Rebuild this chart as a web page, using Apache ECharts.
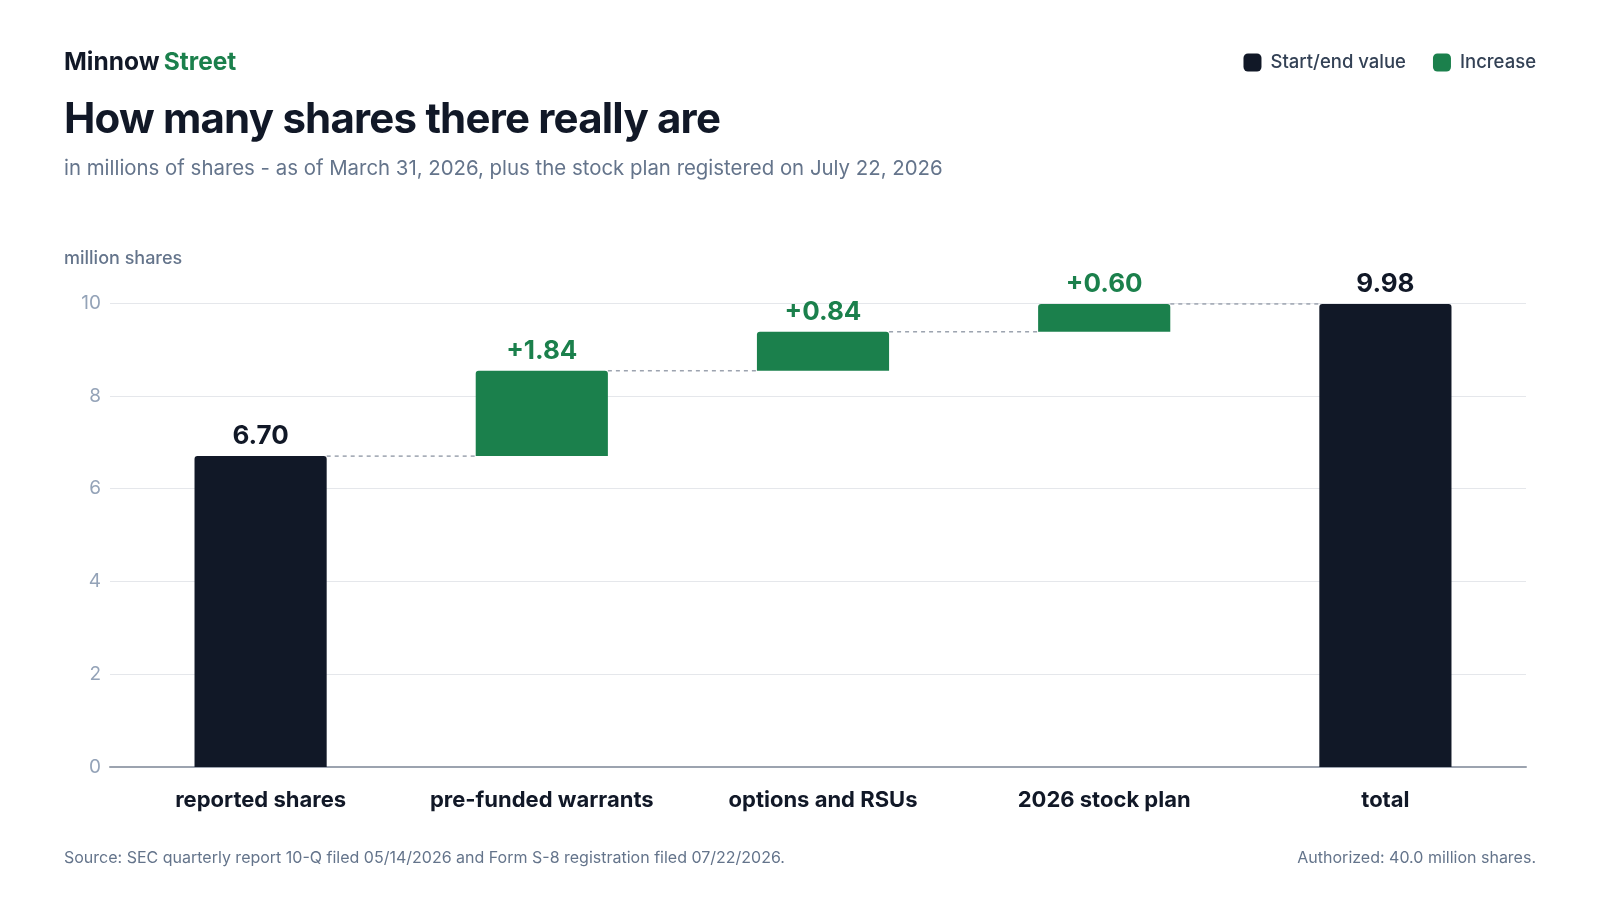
<!DOCTYPE html>
<html>
<head>
<meta charset="utf-8">
<title>How many shares there really are</title>
<script src="https://cdn.jsdelivr.net/npm/echarts@6/dist/echarts.min.js"></script>
<style>
  html, body { margin: 0; padding: 0; background: #ffffff; }
  #wrap { position: relative; width: 1600px; height: 900px; }
  #chart { width: 1600px; height: 900px; }
  #headline {
    position: absolute; left: 64px; top: 97px;
    font-family: Inter, sans-serif; font-size: 42px; font-weight: 700;
    line-height: 42px; letter-spacing: -0.8px; color: #111827;
    white-space: nowrap; z-index: 2;
  }
</style>
</head>
<body>
<div id="wrap">
  <div id="headline">How many shares there really are</div>
  <div id="chart"></div>
</div>
<script>
// data
const categories = ['reported shares', 'pre-funded warrants', 'options and RSUs', '2026 stock plan', 'total'];
const startEndValues = [6.70, null, null, null, 9.98];
const increaseValues = [null, 1.84, 0.84, 0.60, null];
const yTicks = [0, 2, 4, 6, 8, 10];

const DARK = '#111827';
const GREEN = '#1b804c';
const GREY = '#64748b';

// invisible base under each increase bar, and the running top of every bar
const baseValues = [];
const topValues = [];
let running = 0;
categories.forEach((c, i) => {
    if (startEndValues[i] != null) {
        baseValues.push(0);
        running = startEndValues[i];
    } else {
        baseValues.push(running);
        running = running + increaseValues[i];
    }
    topValues.push(running);
});

// connector from the top of one bar to the next
const connectorData = topValues.slice(0, -1).map((v, i) => [i, v]);

const BAR_RATIO = 0.47;
const yMin = yTicks[0];
const yMax = yTicks[yTicks.length - 1];
const yStep = yTicks[1] - yTicks[0];

const chart = echarts.init(document.getElementById('chart'));
chart.setOption({
    animation: false,
    textStyle: { fontFamily: 'Inter' },
    title: [
        {
            left: 64, top: 50, padding: 0,
            text: '{a|Minnow} {b|Street}',
            textStyle: {
                rich: {
                    a: { fontFamily: 'Inter', fontSize: 24.5, fontWeight: 700, color: DARK },
                    b: { fontFamily: 'Inter', fontSize: 24.5, fontWeight: 700, color: GREEN }
                }
            }
        },
        {
            left: 64, top: 159, padding: 0,
            text: 'in millions of shares - as of March 31, 2026, plus the stock plan registered on July 22, 2026',
            textStyle: { fontFamily: 'Inter', fontSize: 20.4, fontWeight: 400, color: GREY }
        },
        {
            left: 64, top: 250, padding: 0,
            text: 'million shares',
            textStyle: { fontFamily: 'Inter', fontSize: 18, fontWeight: 500, color: GREY }
        },
        {
            left: 64, top: 850, padding: 0,
            text: 'Source: SEC quarterly report 10-Q filed 05/14/2026 and Form S-8 registration filed 07/22/2026.',
            textStyle: { fontFamily: 'Inter', fontSize: 16, fontWeight: 400, color: GREY }
        },
        {
            right: 64, top: 850, padding: 0,
            text: 'Authorized: 40.0 million shares.',
            textStyle: { fontFamily: 'Inter', fontSize: 16, fontWeight: 400, color: GREY }
        }
    ],
    legend: {
        right: 64, top: 53, padding: 0,
        itemWidth: 18, itemHeight: 18,
        itemGap: 27,
        icon: 'roundRect',
        data: ['Start/end value', 'Increase'],
        textStyle: { fontFamily: 'Inter', fontSize: 18.5, fontWeight: 500, color: '#334155', padding: [0, 0, 0, 4] }
    },
    // grid 0 carries the gridlines, y labels and baseline; grid 1 carries the bars
    grid: [
        { left: 110, right: 74, top: 303, bottom: 133 },
        { left: 120, right: 74, top: 303, bottom: 133 }
    ],
    xAxis: [
        {
            gridIndex: 0,
            type: 'value', min: 0, max: 1,
            axisLabel: { show: false },
            axisTick: { show: false },
            splitLine: { show: false },
            axisLine: { show: true, lineStyle: { color: '#9ca3af', width: 2 } }
        },
        {
            gridIndex: 1,
            type: 'category',
            data: categories,
            axisTick: { show: false },
            axisLine: { show: false },
            axisLabel: { interval: 0, margin: 22, fontFamily: 'Inter', fontSize: 22, fontWeight: 700, color: DARK }
        }
    ],
    yAxis: [
        {
            gridIndex: 0,
            type: 'value',
            min: yMin, max: yMax, interval: yStep,
            axisLine: { show: false },
            axisTick: { show: false },
            axisLabel: { margin: 9, fontFamily: 'Inter', fontSize: 19, color: '#94a3b8' },
            splitLine: { lineStyle: { color: '#e5e7eb', width: 1 } }
        },
        {
            gridIndex: 1,
            type: 'value',
            min: yMin, max: yMax, interval: yStep,
            axisLine: { show: false },
            axisTick: { show: false },
            axisLabel: { show: false },
            splitLine: { show: false }
        }
    ],
    series: [
        {
            name: 'base',
            type: 'bar',
            xAxisIndex: 1, yAxisIndex: 1,
            stack: 'wf',
            barWidth: (BAR_RATIO * 100) + '%',
            itemStyle: { color: 'transparent' },
            emphasis: { disabled: true },
            silent: true,
            data: baseValues
        },
        {
            name: 'Start/end value',
            type: 'bar',
            xAxisIndex: 1, yAxisIndex: 1,
            stack: 'wf',
            itemStyle: { color: DARK, borderRadius: [3, 3, 0, 0] },
            label: {
                show: true, position: 'top', distance: 7,
                fontFamily: 'Inter', fontSize: 26, fontWeight: 700, color: DARK,
                formatter: p => p.value.toFixed(2)
            },
            data: startEndValues.map(v => v == null ? '-' : v)
        },
        {
            name: 'Increase',
            type: 'bar',
            xAxisIndex: 1, yAxisIndex: 1,
            stack: 'wf',
            itemStyle: { color: GREEN, borderRadius: [3, 3, 0, 0] },
            label: {
                show: true, position: 'top', distance: 7,
                fontFamily: 'Inter', fontSize: 26, fontWeight: 700, color: GREEN,
                formatter: p => '+' + p.value.toFixed(2)
            },
            data: increaseValues.map(v => v == null ? '-' : v)
        },
        {
            name: 'connectors',
            type: 'custom',
            xAxisIndex: 1, yAxisIndex: 1,
            silent: true,
            renderItem: (params, api) => {
                const i = api.value(0);
                const y = api.value(1);
                const half = api.size([1, 0])[0] * BAR_RATIO / 2;
                const p1 = api.coord([i, y]);
                const p2 = api.coord([i + 1, y]);
                return {
                    type: 'line',
                    shape: { x1: p1[0] + half, y1: p1[1], x2: p2[0] - half, y2: p2[1] },
                    style: { stroke: '#9ca3af', lineWidth: 1.5, lineDash: [4, 4] }
                };
            },
            data: connectorData,
            z: 1
        }
    ]
});
</script>
</body>
</html>
